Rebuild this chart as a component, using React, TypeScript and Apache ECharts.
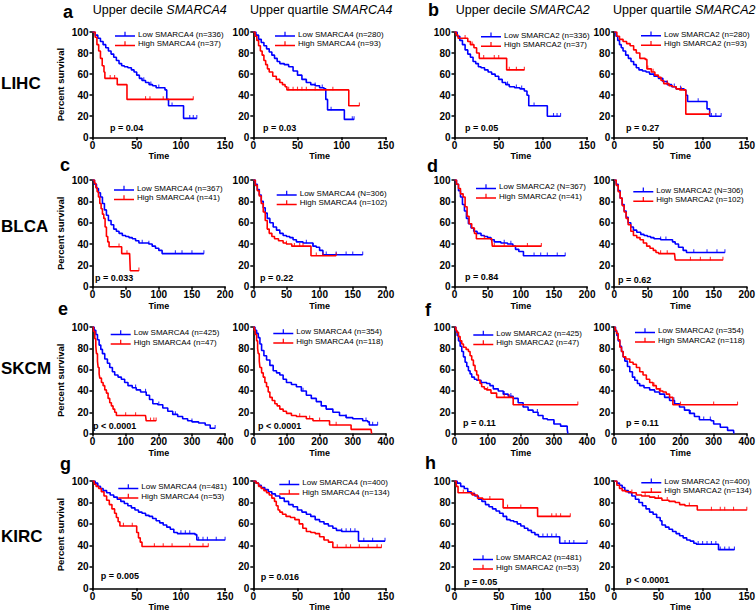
import React, { useEffect, useRef } from "react";
import * as echarts from "echarts";

type Pt = [number, number];

// ---------- LIHC ----------
const LIHC_A4_DEC_LOW: Pt[] = [[0,100],[3,97],[6,94],[9,91],[12,88],[15,85],[18,82],[21,79],[24,76],[27,73],[30,70],[33,68],[36,67],[40,66],[44,64],[47,62],[50,59],[53,56],[56,54],[60,52],[64,50],[68,49],[72,47],[78,47],[82,45],[84,36],[86,30],[101,30],[103,18],[118,18]];
const LIHC_A4_DEC_HIGH: Pt[] = [[0,100],[3,95],[5,88],[7,82],[9,75],[11,68],[13,62],[14,56],[27,56],[28,50],[38,50],[39,36],[114,36]];
const LIHC_A4_QRT_LOW: Pt[] = [[0,100],[3,97],[6,93],[9,90],[12,87],[15,84],[18,81],[21,78],[24,75],[27,72],[30,70],[35,69],[40,67],[45,63],[50,59],[55,55],[60,52],[65,50],[70,49],[75,47],[80,46],[82,36],[84,26],[101,26],[103,17],[114,17]];
const LIHC_A4_QRT_HIGH: Pt[] = [[0,100],[2,96],[4,92],[6,87],[8,82],[10,78],[12,73],[14,69],[16,65],[18,62],[22,58],[26,55],[30,52],[33,50],[36,48],[38,45],[107,45],[108,30],[120,30]];
const LIHC_A2_DEC_LOW: Pt[] = [[0,100],[3,96],[6,92],[9,88],[12,83],[15,79],[18,76],[21,72],[24,70],[27,67],[30,66],[34,64],[38,62],[42,60],[46,58],[50,55],[54,52],[58,50],[62,48],[68,47],[74,46],[79,44],[82,40],[84,30],[104,30],[105,20],[120,20]];
const LIHC_A2_DEC_HIGH: Pt[] = [[0,100],[2,97],[4,94],[10,94],[15,91],[18,88],[22,85],[25,80],[28,75],[58,75],[59,64],[79,64]];
const LIHC_A2_QRT_LOW: Pt[] = [[0,100],[2,96],[4,92],[6,88],[8,85],[10,82],[13,78],[16,75],[19,72],[22,69],[25,66],[28,64],[32,63],[36,62],[40,60],[45,58],[50,56],[55,53],[60,50],[65,48],[70,46],[79,45],[81,40],[83,34],[104,34],[105,27],[108,20],[121,20]];
const LIHC_A2_QRT_HIGH: Pt[] = [[0,100],[3,96],[6,93],[10,91],[14,89],[18,87],[22,83],[25,80],[29,75],[35,74],[37,65],[42,62],[46,59],[50,57],[53,54],[56,51],[62,49],[66,48],[70,46],[74,45],[80,45],[81,22],[108,22]];

// ---------- BLCA ----------
const BLCA_A4_DEC_LOW: Pt[] = [[0,100],[3,96],[6,92],[9,88],[12,84],[15,78],[18,72],[21,67],[24,62],[28,58],[32,54],[36,52],[40,50],[45,48],[50,47],[55,46],[60,45],[65,43],[70,41],[80,41],[85,40],[90,38],[95,36],[100,34],[105,31],[168,31]];
const BLCA_A4_DEC_HIGH: Pt[] = [[0,100],[3,97],[5,93],[7,89],[9,84],[11,78],[13,73],[15,68],[17,64],[19,56],[21,47],[23,42],[25,37.5],[42,37.5],[44,31],[56,31],[57,15],[70,15]];
const BLCA_A4_QRT_LOW: Pt[] = [[0,100],[3,96],[6,91],[9,86],[12,80],[15,74],[18,69],[21,64],[25,60],[30,56],[35,53],[40,50],[45,48],[50,47],[55,46],[60,44],[65,42],[75,41],[85,41],[90,38],[95,37],[100,34],[105,30],[165,30]];
const BLCA_A4_QRT_HIGH: Pt[] = [[0,100],[3,95],[6,90],[9,85],[12,78],[15,70],[18,62],[21,54],[24,50],[28,47],[32,45],[38,43],[45,41],[50,40],[58,38],[85,38],[87,29],[125,29]];
const BLCA_A2_DEC_LOW: Pt[] = [[0,100],[3,96],[6,90],[9,84],[12,77],[15,71],[18,64],[21,59],[25,55],[29,52],[34,50],[40,48],[45,47],[50,46],[55,44],[60,42],[70,41],[80,40],[88,38],[92,35],[97,33],[104,29],[167,29]];
const BLCA_A2_DEC_HIGH: Pt[] = [[0,100],[3,96],[6,92],[9,87],[13,84],[16,75],[19,66],[22,59],[26,55],[30,50],[33,45],[56,45],[57,38],[131,38]];
const BLCA_A2_QRT_LOW: Pt[] = [[0,100],[3,96],[6,90],[9,83],[12,77],[15,71],[18,65],[21,60],[25,56],[29,53],[34,51],[40,49],[45,48],[50,47],[55,46],[60,45],[70,44],[80,44],[88,42],[92,40],[97,37],[104,34],[109,32],[167,32]];
const BLCA_A2_QRT_HIGH: Pt[] = [[0,100],[3,95],[6,89],[9,83],[12,76],[15,70],[18,64],[21,58],[25,52],[29,48],[34,46],[39,44],[44,41],[49,38],[54,36],[59,34],[63,32],[67,31],[91,31],[92,25],[164,25]];

// ---------- SKCM ----------
const SKCM_A4_DEC_LOW: Pt[] = [[0,100],[5,97],[10,93],[15,88],[20,83],[25,79],[30,75],[37,70],[45,66],[52,62],[60,58],[67,55],[77,53],[87,51],[97,48],[107,45],[120,43],[132,41],[145,39],[162,36],[172,32],[182,28],[197,27],[212,24],[227,21],[242,18],[257,16],[272,14],[287,12],[300,11],[320,10],[340,8],[355,5],[370,5]];
const SKCM_A4_DEC_HIGH: Pt[] = [[0,100],[3,96],[7,89],[10,82],[12,75],[15,68],[17,62],[20,56],[22,52],[27,48],[32,45],[37,41],[42,38],[47,33],[52,29],[57,26],[62,23],[67,20],[72,17],[160,17],[162,12],[192,12]];
const SKCM_A4_QRT_LOW: Pt[] = [[0,100],[5,97],[10,94],[15,90],[20,84],[25,78],[32,73],[40,69],[50,64],[60,59],[70,57],[80,55],[90,51],[100,48],[115,46],[130,44],[145,40],[160,36],[175,33],[190,30],[205,26],[220,23],[240,20],[260,17],[280,15],[300,14],[330,12],[345,11],[350,8],[375,8]];
const SKCM_A4_QRT_HIGH: Pt[] = [[0,100],[3,97],[6,93],[10,87],[13,80],[15,75],[18,68],[20,62],[25,57],[30,53],[35,48],[40,44],[45,39],[50,34],[57,31],[65,28],[72,26],[80,23],[90,21],[100,19],[115,17],[130,16],[160,14],[180,12],[230,8],[295,4],[355,4],[357,0]];
const SKCM_A2_DEC_LOW: Pt[] = [[0,100],[4,96],[8,92],[12,87],[17,82],[22,77],[27,72],[32,67],[37,63],[42,59],[47,56],[52,53],[60,51],[67,50],[80,48],[97,47],[107,45],[117,42],[132,40],[147,37],[162,35],[177,33],[192,29],[207,25],[222,22],[237,20],[252,17],[267,14],[280,13],[300,9],[320,7],[340,4],[342,0]];
const SKCM_A2_DEC_HIGH: Pt[] = [[0,100],[4,97],[7,95],[12,91],[17,87],[22,84],[27,81],[35,79],[42,77],[47,73],[52,69],[57,64],[62,59],[67,55],[72,50],[77,47],[82,44],[90,42],[97,41],[110,38],[127,34],[172,34],[177,27],[372,27]];
const SKCM_A2_QRT_LOW: Pt[] = [[0,100],[4,96],[8,92],[12,87],[17,82],[22,77],[27,72],[32,68],[40,63],[47,58],[55,53],[62,50],[70,47],[77,45],[90,43],[107,41],[122,39],[137,37],[152,34],[167,31],[182,28],[197,25],[212,22],[227,19],[242,16],[257,13],[292,12],[300,9],[320,6],[342,3],[360,3],[361,0]];
const SKCM_A2_QRT_HIGH: Pt[] = [[0,100],[3,97],[7,94],[12,88],[17,81],[22,77],[27,72],[35,70],[47,67],[57,65],[67,62],[77,58],[87,55],[97,51],[107,48],[117,45],[127,42],[137,40],[147,39],[157,37],[167,34],[177,27],[372,27]];

// ---------- KIRC ----------
const KIRC_A4_DEC_LOW: Pt[] = [[0,100],[3,98],[6,95],[9,93],[12,91],[16,89],[20,87],[24,85],[28,83],[32,81],[36,79],[40,77],[44,75],[48,73],[52,71],[56,70],[60,68],[64,67],[68,65],[72,63],[76,61],[80,59],[84,57],[88,55],[92,52],[96,51],[116,50],[118,45],[150,45]];
const KIRC_A4_DEC_HIGH: Pt[] = [[0,100],[2,97],[4,95],[7,93],[10,90],[13,86],[16,82],[19,78],[22,74],[25,70],[27,66],[29,62],[31,58],[48,58],[50,52],[52,47],[54,43],[56,39],[131,39]];
const KIRC_A4_QRT_LOW: Pt[] = [[0,100],[3,98],[6,96],[9,94],[13,92],[17,90],[21,88],[25,86],[30,84],[35,81],[40,78],[45,76],[50,73],[55,71],[60,69],[65,67],[70,64],[75,62],[80,60],[85,58],[90,56],[94,54],[100,53],[117,53],[119,44],[149,44]];
const KIRC_A4_QRT_HIGH: Pt[] = [[0,100],[3,98],[6,95],[9,93],[12,91],[15,89],[18,87],[21,84],[24,81],[26,77],[28,73],[30,71],[33,69],[37,67],[42,66],[47,64],[52,60],[56,56],[60,53],[65,52],[70,51],[75,48],[80,45],[85,43],[90,38],[145,38]];
const KIRC_A2_DEC_LOW: Pt[] = [[0,100],[3,98],[7,95],[11,93],[15,90],[19,88],[23,86],[27,83],[31,81],[35,78],[39,76],[43,74],[47,72],[51,70],[55,67],[59,64],[63,63],[67,62],[71,60],[75,58],[79,56],[83,54],[87,52],[91,50],[95,48],[117,48],[119,42],[150,42]];
const KIRC_A2_DEC_HIGH: Pt[] = [[0,100],[2,95],[4,89],[17,89],[20,87],[26,84],[32,83],[53,83],[55,75],[93,75],[94,67],[131,67]];
const KIRC_A2_QRT_LOW: Pt[] = [[0,100],[3,98],[6,96],[9,94],[12,91],[16,89],[20,86],[24,83],[28,80],[32,77],[36,74],[40,71],[44,69],[48,66],[52,63],[54,59],[58,57],[62,55],[66,53],[70,51],[74,49],[78,47],[82,45],[86,44],[90,42],[93,41],[117,41],[118,36],[136,36]];
const KIRC_A2_QRT_HIGH: Pt[] = [[0,100],[3,96],[6,93],[9,91],[13,90],[19,89],[25,87],[31,86],[40,85],[46,84],[54,82],[62,81],[69,80],[74,78],[80,77],[93,77],[94,73],[150,73]];

// ---------- censor times (tick marks) ----------
const CENS_LOW: number[][] = [
  [58, 66, 75, 90, 110, 114, 118],
  [60, 70, 78, 88, 112, 114],
  [60, 70, 76, 90, 112, 116, 120],
  [68, 75, 95, 110, 115, 121],
  [75, 85, 125, 135, 150, 168],
  [80, 90, 110, 125, 140, 150, 165],
  [75, 85, 120, 130, 140, 155, 167],
  [70, 78, 120, 140, 155, 167],
  [130, 160, 200, 250, 300, 370],
  [150, 220, 280, 340, 360, 375],
  [150, 170, 250, 300],
  [180, 230, 270, 290],
  [100, 105, 110, 120, 125, 130, 140, 150],
  [100, 105, 110, 115, 125, 135, 149],
  [100, 105, 110, 115, 125, 130, 135, 150],
  [95, 100, 105, 110, 115, 120, 125, 130, 136],
];
const CENS_HIGH: number[][] = [
  [20, 25, 60, 65, 80, 114],
  [40, 45, 50, 55, 60, 70, 90, 120],
  [12, 20, 33, 45, 50, 62, 70, 79],
  [38, 44, 60, 76, 108],
  [40, 52, 70],
  [50, 62, 70, 75, 95, 105, 125],
  [45, 60, 75, 110, 131],
  [70, 80, 115, 130, 145, 164],
  [100, 130, 175, 185, 192],
  [140, 170, 200, 250],
  [100, 150, 165, 372],
  [120, 140, 200, 300, 372],
  [35, 45, 70, 80, 90, 110, 125, 131],
  [80, 95, 105, 110, 120, 130, 140, 145],
  [10, 22, 40, 60, 75, 110, 115, 120, 131],
  [20, 35, 50, 60, 85, 110, 120, 125, 135, 150],
];

const LOW_CURVES: Pt[][] = [
  LIHC_A4_DEC_LOW, LIHC_A4_QRT_LOW, LIHC_A2_DEC_LOW, LIHC_A2_QRT_LOW,
  BLCA_A4_DEC_LOW, BLCA_A4_QRT_LOW, BLCA_A2_DEC_LOW, BLCA_A2_QRT_LOW,
  SKCM_A4_DEC_LOW, SKCM_A4_QRT_LOW, SKCM_A2_DEC_LOW, SKCM_A2_QRT_LOW,
  KIRC_A4_DEC_LOW, KIRC_A4_QRT_LOW, KIRC_A2_DEC_LOW, KIRC_A2_QRT_LOW,
];
const HIGH_CURVES: Pt[][] = [
  LIHC_A4_DEC_HIGH, LIHC_A4_QRT_HIGH, LIHC_A2_DEC_HIGH, LIHC_A2_QRT_HIGH,
  BLCA_A4_DEC_HIGH, BLCA_A4_QRT_HIGH, BLCA_A2_DEC_HIGH, BLCA_A2_QRT_HIGH,
  SKCM_A4_DEC_HIGH, SKCM_A4_QRT_HIGH, SKCM_A2_DEC_HIGH, SKCM_A2_QRT_HIGH,
  KIRC_A4_DEC_HIGH, KIRC_A4_QRT_HIGH, KIRC_A2_DEC_HIGH, KIRC_A2_QRT_HIGH,
];

const LOW_NAMES = [
  "Low SMARCA4 (n=336)", "Low SMARCA4 (n=280)", "Low SMARCA2 (n=336)", "Low SMARCA2 (n=280)",
  "Low SMARCA4 (n=367)", "Low SMARCA4 (N=306)", "Low SMARCA2 (N=367)", "Low SMARCA2 (N=306)",
  "Low SMARCA4 (n=425)", "Low SMARCA4 (n=354)", "Low SMARCA2 (n=425)", "Low SMARCA2 (n=354)",
  "Low SMARCA4 (n=481)", "Low SMARCA4 (n=400)", "Low SMARCA2 (n=481)", "Low SMARCA2 (n=400)",
];
const HIGH_NAMES = [
  "High SMARCA4 (n=37)", "High SMARCA4 (n=93)", "High SMARCA2 (n=37)", "High SMARCA2 (n=93)",
  "High SMARCA4 (n=41)", "High SMARCA4 (n=102)", "High SMARCA2 (n=41)", "High SMARCA2 (n=102)",
  "High SMARCA4 (n=47)", "High SMARCA4 (n=118)", "High SMARCA2 (n=47)", "High SMARCA2 (n=118)",
  "High SMARCA4 (n=53)", "High SMARCA4 (n=134)", "High SMARCA2 (n=53)", "High SMARCA2 (n=134)",
];
const P_VALUES = [
  "p = 0.04", "p = 0.03", "p = 0.05", "p = 0.27",
  "p = 0.033", "p = 0.22", "p = 0.84", "p = 0.62",
  "p < 0.0001", "p < 0.0001", "p = 0.11", "p = 0.11",
  "p = 0.005", "p = 0.016", "p = 0.05", "p < 0.0001",
];
const ROW_LABELS = ["LIHC", "BLCA", "SKCM", "KIRC"];
const PANEL_LETTERS = ["a", "b", "c", "d", "e", "f", "g", "h"];
const HEADER_PREFIX = ["Upper decile ", "Upper quartile ", "Upper decile ", "Upper quartile "];
const HEADER_GENE = ["SMARCA4", "SMARCA4", "SMARCA2", "SMARCA2"];
const X_MAX = [150, 200, 400, 150];
const X_STEP = [50, 50, 100, 50];

// ---------- layout (pixels) ----------
const GRID_LEFT = [92.5, 253.3, 454.5, 614.2];
const GRID_TOP = [32, 180, 327, 481];
const GRID_H = [105.3, 106.7, 106.6, 107.3];
const GRID_W = 132.6;
const TIME_GAP = [13, 13, 13, 12];
const LEG_POS: Pt[] = [
  [115, 34.3], [275, 34.3], [481, 35], [641, 34],
  [114, 188.3], [276.7, 193.3], [476, 186.7], [633.3, 190],
  [110.7, 332.7], [273.3, 331.7], [473.3, 333.3], [635, 330.7],
  [118.3, 486.7], [279.3, 482.7], [473, 557.7], [641.3, 481],
];
const P_POS: Pt[] = [
  [110, 128], [263, 128], [465, 128], [626, 128],
  [95, 277.7], [260, 278], [465, 276.7], [618, 280],
  [93, 426], [258, 426], [463, 422.5], [626, 423],
  [100.7, 576], [260.7, 577], [464, 582], [626, 580],
];
const LETTER_POS: Pt[] = [
  [63, 12], [428, 10], [60, 164.5], [427, 165.5], [58, 309], [425, 310], [60, 464], [425, 462.5],
];
const ROW_LABEL_Y = [83, 226.7, 368.3, 536.7];
const HEADER_X = [92.7, 250, 455.7, 613];

const FONT = '"Liberation Sans", Arial, Helvetica, sans-serif';
const BLUE = "#0000ff";
const RED = "#ff0000";
const TICK_ICON = "path://M0,5.3L20,5.3L20,6.9L0,6.9Z M9.4,1.8L10.6,1.8L10.6,5.3L9.4,5.3Z";

const stepAt = (c: Pt[], t: number) => {
  let v = c[0][1];
  for (const [x, y] of c) {
    if (x <= t) v = y;
    else break;
  }
  return v;
};

function buildOption() {
  const grid: any[] = [];
  const xAxis: any[] = [];
  const yAxis: any[] = [];
  const series: any[] = [];
  const legend: any[] = [];
  const graphic: any[] = [];

  for (let i = 0; i < 16; i++) {
    const row = Math.floor(i / 4);
    const col = i % 4;
    grid.push({
      left: GRID_LEFT[col],
      top: GRID_TOP[row],
      width: GRID_W,
      height: GRID_H[row],
      containLabel: false,
      outerBoundsMode: "none",
    });
    const axisCommon = {
      axisLine: { show: true, onZero: false, lineStyle: { color: "#000", width: 1.7 } },
      axisTick: { show: true, inside: false, length: 3, lineStyle: { color: "#000", width: 1.5 } },
      splitLine: { show: false },
    };
    xAxis.push({
      ...axisCommon,
      gridIndex: i,
      type: "value",
      min: 0,
      max: X_MAX[row],
      interval: X_STEP[row],
      axisLabel: { fontSize: 10, fontWeight: "bold", color: "#000", margin: 3, fontFamily: FONT },
      name: "Time",
      nameLocation: "middle",
      nameGap: TIME_GAP[row],
      nameTextStyle: { fontSize: 9, fontWeight: "bold", color: "#000", fontFamily: FONT, lineHeight: 10 },
    });
    yAxis.push({
      ...axisCommon,
      gridIndex: i,
      type: "value",
      min: 0,
      max: 100,
      interval: 20,
      axisLabel: { fontSize: 10, fontWeight: "bold", color: "#000", margin: 4, fontFamily: FONT },
      name: col === 0 ? "Percent survival" : "",
      nameLocation: "middle",
      nameGap: 27,
      nameTextStyle: { fontSize: 9.5, fontWeight: "bold", color: "#000", fontFamily: FONT },
    });

    const low = LOW_CURVES[i];
    const high = HIGH_CURVES[i];
    series.push({
      type: "line",
      name: LOW_NAMES[i],
      xAxisIndex: i,
      yAxisIndex: i,
      data: low,
      step: "end",
      showSymbol: false,
      symbol: "none",
      lineStyle: { color: BLUE, width: 1.6 },
      itemStyle: { color: BLUE },
      z: 2,
      silent: true,
    });
    series.push({
      type: "line",
      name: HIGH_NAMES[i],
      xAxisIndex: i,
      yAxisIndex: i,
      data: high,
      step: "end",
      showSymbol: false,
      symbol: "none",
      lineStyle: { color: RED, width: 1.6 },
      itemStyle: { color: RED },
      z: 3,
      silent: true,
    });
    series.push({
      type: "scatter",
      name: "cens-low-" + i,
      xAxisIndex: i,
      yAxisIndex: i,
      data: CENS_LOW[i].map((t) => [t, stepAt(low, t)]),
      symbol: "rect",
      symbolSize: [1.1, 3.5],
      symbolOffset: [0, -1.5],
      itemStyle: { color: BLUE },
      z: 2,
      silent: true,
    });
    series.push({
      type: "scatter",
      name: "cens-high-" + i,
      xAxisIndex: i,
      yAxisIndex: i,
      data: CENS_HIGH[i].map((t) => [t, stepAt(high, t)]),
      symbol: "rect",
      symbolSize: [1.1, 3.5],
      symbolOffset: [0, -1.5],
      itemStyle: { color: RED },
      z: 3,
      silent: true,
    });

    legend.push({
      id: "lg" + i,
      data: [LOW_NAMES[i], HIGH_NAMES[i]],
      orient: "vertical",
      left: LEG_POS[i][0],
      top: LEG_POS[i][1] - 4.5,
      padding: 0,
      itemWidth: 20,
      itemHeight: 7,
      itemGap: 0.5,
      icon: TICK_ICON,
      selectedMode: false,
      itemStyle: { borderWidth: 0 },
      textStyle: { fontSize: 8, lineHeight: 9, color: "#000", fontFamily: FONT, padding: [0, 0, 0, -2] },
    });

    graphic.push({
      type: "text",
      x: P_POS[i][0],
      y: P_POS[i][1],
      style: {
        text: P_VALUES[i],
        font: `bold 9px ${FONT}`,
        fill: "#000",
        align: "left",
        verticalAlign: "middle",
      },
    });
  }

  for (let r = 0; r < 4; r++) {
    graphic.push({
      type: "text",
      x: 1,
      y: ROW_LABEL_Y[r],
      style: { text: ROW_LABELS[r], font: `bold 17px ${FONT}`, fill: "#000", align: "left", verticalAlign: "middle" },
    });
  }
  for (let k = 0; k < 8; k++) {
    graphic.push({
      type: "text",
      x: LETTER_POS[k][0],
      y: LETTER_POS[k][1],
      style: { text: PANEL_LETTERS[k], font: `bold 18px ${FONT}`, fill: "#000", align: "left", verticalAlign: "middle" },
    });
  }
  for (let c = 0; c < 4; c++) {
    graphic.push({
      type: "text",
      x: HEADER_X[c],
      y: 9.5,
      style: {
        text: `{n|${HEADER_PREFIX[c]}}{i|${HEADER_GENE[c]}}`,
        rich: {
          n: { fontSize: 12.5, fontFamily: FONT, fill: "#000" },
          i: { fontSize: 12.5, fontFamily: FONT, fontStyle: "italic", fill: "#000" },
        },
        align: "left",
        verticalAlign: "middle",
      },
    });
  }

  return {
    animation: false,
    backgroundColor: "#ffffff",
    textStyle: { fontFamily: FONT },
    grid,
    xAxis,
    yAxis,
    legend,
    series,
    graphic,
  };
}

export default function App() {
  const ref = useRef<HTMLDivElement>(null);
  useEffect(() => {
    document.body.style.margin = "0";
    if (!ref.current) return;
    const chart = echarts.init(ref.current, undefined, { renderer: "svg" });
    chart.setOption(buildOption() as any);
    return () => chart.dispose();
  }, []);
  return (
    <div
      ref={ref}
      style={{ width: 756, height: 611, position: "absolute", left: 0, top: 0, background: "#fff" }}
    />
  );
}
